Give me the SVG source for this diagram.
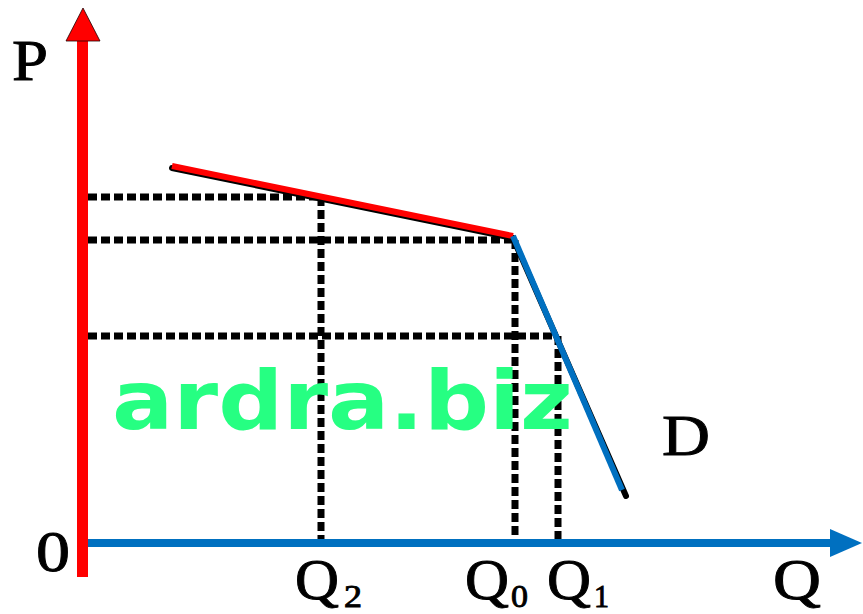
<svg xmlns="http://www.w3.org/2000/svg" width="863" height="614" viewBox="0 0 863 614">
  <style>
    .lbl { font-family: "Liberation Serif", "Times New Roman", serif; fill: #000; stroke: #000; stroke-width: 0.9; }
    .big { font-size: 56px; }
    .sub { font-size: 31px; }
    .dash { stroke: #000; stroke-width: 7; stroke-dasharray: 9 4; fill: none; }
    .wm { font-family: "DejaVu Sans", "Liberation Sans", sans-serif; font-weight: bold; font-size: 82px; fill: #26FF82; }
  </style>
  <rect width="863" height="614" fill="#fff"/>

  <g id="guides">
    <line class="dash" x1="88" y1="197" x2="321" y2="197"/>
    <line class="dash" x1="88" y1="240" x2="513" y2="240"/>
    <line class="dash" x1="88" y1="336" x2="558" y2="336"/>
    <line class="dash" x1="321" y1="197" x2="321" y2="539"/>
    <line class="dash" x1="515" y1="240" x2="515" y2="539"/>
    <line class="dash" x1="558" y1="336" x2="558" y2="539"/>
  </g>

  <text class="wm" x="112" y="429" textLength="461" lengthAdjust="spacingAndGlyphs">ardra.biz</text>

  <g id="demand">
    <polyline points="172,168 513,238 626,496" fill="none" stroke="#000" stroke-width="6" stroke-linejoin="round" stroke-linecap="round"/>
    <line x1="172" y1="166" x2="513" y2="236" stroke="#FF0000" stroke-width="6"/>
    <line x1="513" y1="236" x2="622" y2="490" stroke="#0070C0" stroke-width="6"/>
  </g>

  <g id="axes">
    <rect x="77" y="38" width="11" height="539" fill="#FF0000"/>
    <polygon points="83,8 66,41 100,41" fill="#FF0000" stroke="#220000" stroke-width="0.8"/>
    <rect x="88" y="539" width="744" height="8" fill="#0070C0"/>
    <polygon points="830,529 862,543 830,557" fill="#0070C0"/>
  </g>

  <g id="labels">
    <text class="lbl big" x="12" y="80" textLength="36" lengthAdjust="spacingAndGlyphs">P</text>
    <text class="lbl big" x="36" y="571" textLength="34" lengthAdjust="spacingAndGlyphs">0</text>
    <text class="lbl big" x="662" y="455" textLength="48" lengthAdjust="spacingAndGlyphs">D</text>
    <text class="lbl big" x="295" y="599" textLength="44" lengthAdjust="spacingAndGlyphs">Q</text>
    <text class="lbl sub" x="344" y="607" textLength="18" lengthAdjust="spacingAndGlyphs">2</text>
    <text class="lbl big" x="465" y="599" textLength="44" lengthAdjust="spacingAndGlyphs">Q</text>
    <text class="lbl sub" x="511" y="607" textLength="17" lengthAdjust="spacingAndGlyphs">0</text>
    <text class="lbl big" x="547" y="599" textLength="44" lengthAdjust="spacingAndGlyphs">Q</text>
    <text class="lbl sub" x="594" y="607" textLength="15" lengthAdjust="spacingAndGlyphs">1</text>
    <text class="lbl big" x="773" y="599" textLength="48" lengthAdjust="spacingAndGlyphs">Q</text>
  </g>
</svg>
